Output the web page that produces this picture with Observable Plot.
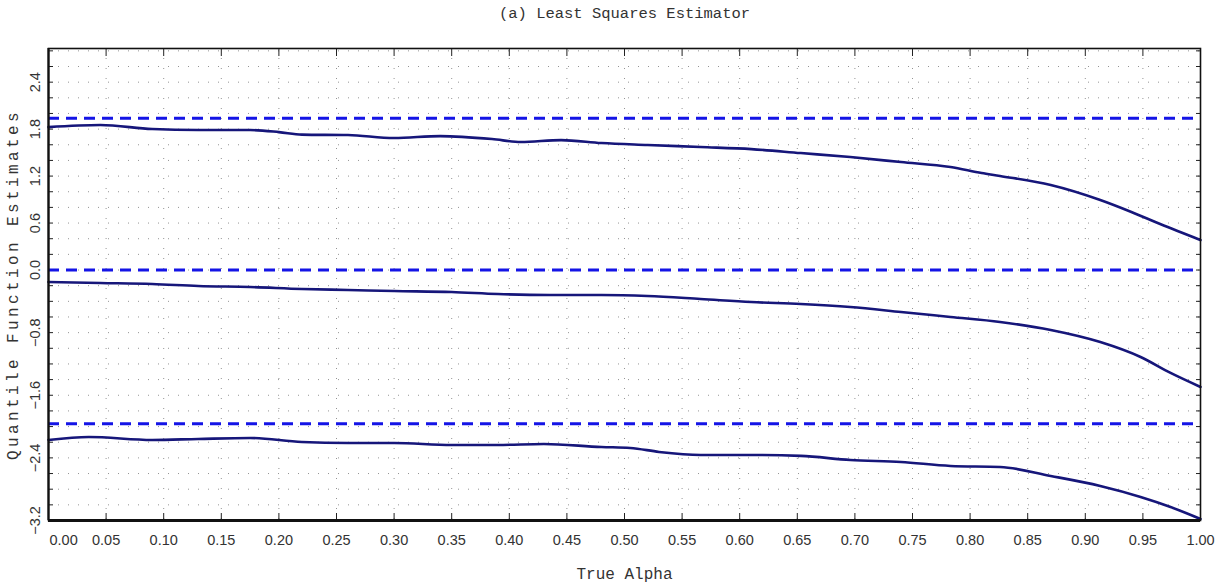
<!DOCTYPE html>
<html>
<head>
<meta charset="utf-8">
<script src="https://cdn.jsdelivr.net/npm/d3@7"></script>
<script src="https://cdn.jsdelivr.net/npm/@observablehq/plot@0.6"></script>
<style>
  html, body { margin: 0; padding: 0; background: #fff; }
  #chart svg { display: block; }
</style>
</head>
<body>
<div id="chart"></div>
<script>
// ---- data ----
const titleText = "(a) Least Squares Estimator";
const xLabel = "True Alpha";
const yLabel = "Quantile Function Estimates";

const xTicks = [0.00,0.05,0.10,0.15,0.20,0.25,0.30,0.35,0.40,0.45,0.50,0.55,0.60,0.65,0.70,0.75,0.80,0.85,0.90,0.95,1.00];
const yTickLabels = [2.4, 1.8, 1.2, 0.6, 0.0, -0.8, -1.6, -2.4, -3.2];
const yMinorTicks = [-3.2,-3.0,-2.8,-2.6,-2.4,-2.2,-2.0,-1.8,-1.6,-1.4,-1.2,-1.0,-0.8,-0.6,-0.4,-0.2,0.0,0.2,0.4,0.6,0.8,1.0,1.2,1.4,1.6,1.8,2.0,2.2,2.4,2.6,2.8];

// true (reference) quantiles, dashed
const trueQuantiles = [1.94, 0.0, -1.965];

// upper estimate curve
const upperAlpha = [0.00,0.045,0.09,0.13,0.175,0.20,0.22,0.26,0.30,0.34,0.385,0.41,0.445,0.48,0.52,0.566,0.61,0.653,0.696,0.74,0.783,0.81,0.826,0.87,0.913,0.94,0.965,1.00];
const upperVals  = [1.826,1.852,1.801,1.788,1.788,1.762,1.730,1.724,1.686,1.711,1.673,1.635,1.660,1.622,1.597,1.571,1.545,1.494,1.443,1.379,1.315,1.239,1.201,1.086,0.894,0.741,0.587,0.383];

// middle estimate curve
const middleAlpha = [0.00,0.045,0.09,0.13,0.175,0.22,0.26,0.30,0.35,0.39,0.435,0.48,0.52,0.566,0.61,0.653,0.696,0.74,0.783,0.826,0.87,0.913,0.948,0.974,1.00];
const middleVals  = [-0.153,-0.166,-0.179,-0.204,-0.217,-0.243,-0.255,-0.268,-0.281,-0.307,-0.319,-0.319,-0.332,-0.370,-0.409,-0.434,-0.473,-0.536,-0.600,-0.664,-0.766,-0.920,-1.111,-1.315,-1.494];

// lower estimate curve
const lowerAlpha = [0.00,0.035,0.09,0.13,0.175,0.22,0.26,0.30,0.35,0.39,0.43,0.48,0.505,0.53,0.566,0.61,0.653,0.696,0.74,0.783,0.826,0.87,0.913,0.948,0.974,1.00];
const lowerVals  = [-2.171,-2.133,-2.171,-2.158,-2.146,-2.197,-2.209,-2.209,-2.235,-2.235,-2.222,-2.261,-2.273,-2.324,-2.363,-2.363,-2.375,-2.427,-2.452,-2.503,-2.516,-2.631,-2.759,-2.899,-3.027,-3.180];

// ---- build tables ----
const curves = [
  ...upperAlpha.map((a, i) => ({alpha: a, value: upperVals[i], series: "upper"})),
  ...middleAlpha.map((a, i) => ({alpha: a, value: middleVals[i], series: "middle"})),
  ...lowerAlpha.map((a, i) => ({alpha: a, value: lowerVals[i], series: "lower"}))
];

const fmtY = d => (d < 0 ? "\u2212" : "") + Math.abs(d).toFixed(1);
const tickFont = "Liberation Sans, Arial, sans-serif";
const serifMono = "Liberation Mono, Courier New, monospace";

const chart = Plot.plot({
  width: 1218,
  height: 585,
  marginTop: 48,
  marginBottom: 65,
  marginLeft: 48,
  marginRight: 18,
  x: {domain: [0, 1], axis: null},
  y: {domain: [-3.2, 2.83], axis: null},
  style: {background: "#fff", overflow: "visible"},
  marks: [
    // dotted grid
    Plot.gridY(yMinorTicks, {stroke: "#666", strokeOpacity: 0.7, strokeDasharray: "1,9"}),
    Plot.gridX(xTicks, {stroke: "#666", strokeOpacity: 0.7, strokeDasharray: "1,9"}),
    // inward tick marks on all four sides
    Plot.axisY({anchor: "left", ticks: yMinorTicks, tickSize: -5, tickFormat: () => "", label: null, stroke: "#222"}),
    Plot.axisY({anchor: "right", ticks: yMinorTicks, tickSize: -5, tickFormat: () => "", label: null, stroke: "#222"}),
    Plot.axisX({anchor: "top", ticks: xTicks, tickSize: -7, tickFormat: () => "", label: null, stroke: "#222"}),
    Plot.axisX({anchor: "bottom", ticks: xTicks, tickSize: -7, tickFormat: () => "", label: null, stroke: "#222"}),
    // true quantile references
    Plot.ruleY(trueQuantiles, {stroke: "#1414e6", strokeWidth: 3, strokeDasharray: "11,7"}),
    // estimates
    Plot.line(curves, {x: "alpha", y: "value", z: "series", stroke: "#16167a", strokeWidth: 2.6, curve: "monotone-x"}),
    // frame
    Plot.frame({stroke: "#111", strokeWidth: 1.6}),
    Plot.ruleY([-3.2], {stroke: "#111", strokeWidth: 3}),
    Plot.ruleX([0], {stroke: "#111", strokeWidth: 2.2}),
    // x tick labels
    Plot.text(xTicks.slice(1), {x: d => d, frameAnchor: "bottom", dy: 20, lineAnchor: "middle", text: d => d.toFixed(2), fontSize: 14.5, fontFamily: tickFont, fill: "#333"}),
    Plot.text(xTicks.slice(0, 1), {x: d => d, frameAnchor: "bottom", dy: 20, dx: 1, lineAnchor: "middle", textAnchor: "start", text: d => d.toFixed(2), fontSize: 14.5, fontFamily: tickFont, fill: "#333"}),
    // y tick labels (rotated)
    Plot.text(yTickLabels, {y: d => d, frameAnchor: "left", dx: -13, rotate: -90, textAnchor: "middle", lineAnchor: "middle", text: fmtY, fontSize: 14.5, fontFamily: tickFont, fill: "#333"}),
    // axis titles
    Plot.text([xLabel], {frameAnchor: "bottom", dy: 53, textAnchor: "middle", lineAnchor: "middle", fontSize: 16, fontFamily: serifMono, fill: "#333"}),
    Plot.text([yLabel], {frameAnchor: "left", dx: -36, rotate: -90, textAnchor: "middle", lineAnchor: "middle", fontSize: 16, fontFamily: serifMono, fill: "#333"}),
    Plot.text([titleText], {frameAnchor: "top", dy: -35, textAnchor: "middle", lineAnchor: "middle", fontSize: 15.5, fontFamily: serifMono, fill: "#333"})
  ]
});

// widen the letter spacing of the y-axis title, as in the reference
d3.select(chart).selectAll("text").filter(function() { return this.textContent === yLabel; })
  .attr("letter-spacing", "3.4px");

document.getElementById("chart").appendChild(chart);
</script>
</body>
</html>
